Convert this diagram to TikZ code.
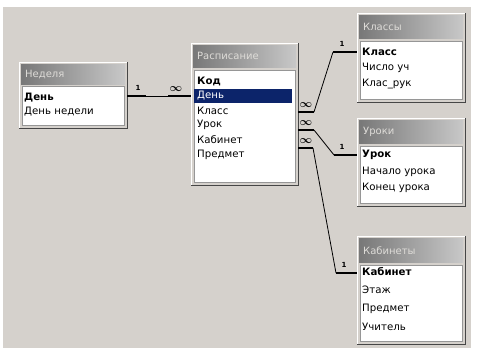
\documentclass[tikz,border=0pt]{standalone}
\usepackage{fontspec}
\setmainfont{DejaVu Sans}
\definecolor{bg}{RGB}{213,209,204}
\definecolor{tdark}{RGB}{120,120,120}
\definecolor{tlight}{RGB}{200,200,200}
\definecolor{ttext}{RGB}{222,220,216}
\definecolor{hl}{RGB}{12,36,106}
\definecolor{edark}{RGB}{70,70,70}
\definecolor{bodyedge}{RGB}{150,150,150}
\tikzset{
  frame/.style={anchor=north west, fill=bg, inner sep=0pt, draw=none},
  edgelight/.style={draw=white, line width=1pt},
  edgedark/.style={draw=edark, line width=1.4pt},
  titlebar/.style={anchor=north west, left color=tdark, right color=tlight, inner sep=0pt, text=ttext, font=\fontsize{10}{11}\selectfont, align=left},
  bodybox/.style={anchor=north west, fill=white, draw=bodyedge, line width=0.6pt, inner sep=0pt},
  field/.style={anchor=west, inner sep=0pt, font=\fontsize{10.2}{11}\selectfont},
  keyfield/.style={field, font=\fontsize{10.2}{11}\selectfont\bfseries},
  rel/.style={line width=0.8pt, black},
  relthick/.style={line width=2.4pt, black},
  one/.style={inner sep=0pt, font=\fontsize{7}{7}\selectfont\bfseries},
  many/.style={inner sep=0pt, font=\fontsize{11}{11}\selectfont\boldmath}
}
\begin{document}
\begin{tikzpicture}[x=1pt,y=-1pt]
\useasboundingbox (0,0) rectangle (479,348);
\fill[white] (0,0) rectangle (479,348);
\fill[bg] (3,7) rectangle (471,348);

% ---------- Неделя ----------
\node[frame, minimum width=108pt, minimum height=66pt] (ned) at (19,62) {};
\draw[edgelight] (ned.south west) -- (ned.north west) -- (ned.north east);
\draw[edgedark] (ned.north east) -- (ned.south east) -- (ned.south west);
\node[titlebar, minimum width=104pt, minimum height=20pt, text width=96pt, inner xsep=4pt] (nedT) at (21,64) {Неделя};
\node[bodybox, minimum width=102pt, minimum height=39pt] (nedB) at (22,86) {};
\node[keyfield] (nedDen) at (24,98) {День};
\node[field] (nedDN) at (24,112) {День недели};

% ---------- Расписание ----------
\node[frame, minimum width=107pt, minimum height=142pt] (ras) at (191,43) {};
\draw[edgelight] (ras.south west) -- (ras.north west) -- (ras.north east);
\draw[edgedark] (ras.north east) -- (ras.south east) -- (ras.south west);
\node[titlebar, minimum width=103pt, minimum height=22pt, text width=95pt, inner xsep=4pt] (rasT) at (193,45) {Расписание};
\node[bodybox, minimum width=101pt, minimum height=112pt] (rasB) at (194,70) {};
\node[keyfield] (rasKod) at (197,81) {Код};
\node[field, fill=hl, text=white, text width=92pt, inner xsep=3pt, minimum height=14pt] (rasDen) at (194,96) {День};
\node[field] (rasKl) at (197,111) {Класс};
\node[field] (rasUr) at (197,125) {Урок};
\node[field] (rasKab) at (197,140) {Кабинет};
\node[field] (rasPr) at (197,155) {Предмет};

% ---------- Классы ----------
\node[frame, minimum width=108pt, minimum height=89pt] (kl) at (357,13) {};
\draw[edgelight] (kl.south west) -- (kl.north west) -- (kl.north east);
\draw[edgedark] (kl.north east) -- (kl.south east) -- (kl.south west);
\node[titlebar, minimum width=104pt, minimum height=23pt, text width=96pt, inner xsep=4pt] (klT) at (359,15) {Классы};
\node[bodybox, minimum width=102pt, minimum height=58pt] (klB) at (360,41) {};
\node[keyfield] (klKl) at (362,52) {Класс};
\node[field] (klCh) at (362,68) {Число уч};
\node[field] (klRuk) at (362,84) {Клас\_рук};

% ---------- Уроки ----------
\node[frame, minimum width=108pt, minimum height=88pt] (ur) at (357,118) {};
\draw[edgelight] (ur.south west) -- (ur.north west) -- (ur.north east);
\draw[edgedark] (ur.north east) -- (ur.south east) -- (ur.south west);
\node[titlebar, minimum width=104pt, minimum height=23pt, text width=96pt, inner xsep=4pt] (urT) at (359,120) {Уроки};
\node[bodybox, minimum width=102pt, minimum height=57pt] (urB) at (360,146) {};
\node[keyfield] (urUr) at (362,155) {Урок};
\node[field] (urNach) at (362,172) {Начало урока};
\node[field] (urKon) at (362,188) {Конец урока};

% ---------- Кабинеты ----------
\node[frame, minimum width=108pt, minimum height=108pt] (kab) at (357,236) {};
\draw[edgelight] (kab.south west) -- (kab.north west) -- (kab.north east);
\draw[edgedark] (kab.north east) -- (kab.south east) -- (kab.south west);
\node[titlebar, minimum width=104pt, minimum height=24pt, text width=96pt, inner xsep=4pt] (kabT) at (359,238) {Кабинеты};
\node[bodybox, minimum width=102pt, minimum height=76pt] (kabB) at (360,265) {};
\node[keyfield] (kabKab) at (362,272) {Кабинет};
\node[field] (kabEt) at (362,290) {Этаж};
\node[field] (kabPr) at (362,309) {Предмет};
\node[field] (kabUch) at (362,327) {Учитель};

% ---------- Связи ----------
% Неделя - Расписание
\coordinate (n1) at (146,96);
\coordinate (n2) at (168,96);
\draw[relthick] (ned.east |- n1) -- (n1);
\draw[rel] (n1) -- (n2);
\draw[relthick] (n2) -- (ras.west |- n2);
\node[one] (n1lab) at (138,88) {1};
\node[many] (n2lab) at (176,89) {$\infty$};

% Расписание - Классы
\coordinate (a1) at (314,112);
\coordinate (a2) at (333,52);
\draw[relthick] (ras.east |- a1) -- (a1);
\draw[rel] (a1) -- (a2);
\draw[relthick] (a2) -- (kl.west |- a2);
\node[many] (a1lab) at (306,105) {$\infty$};
\node[one] (a2lab) at (342,44) {1};

% Расписание - Уроки
\coordinate (b1) at (314,130);
\coordinate (b2) at (334,155);
\draw[relthick] (ras.east |- b1) -- (b1);
\draw[rel] (b1) -- (b2);
\draw[relthick] (b2) -- (ur.west |- b2);
\node[many] (b1lab) at (306,123) {$\infty$};
\node[one] (b2lab) at (342,147) {1};

% Расписание - Кабинеты
\coordinate (c1) at (313,148);
\coordinate (c2) at (336,273);
\draw[relthick] (ras.east |- c1) -- (c1);
\draw[rel] (c1) -- (c2);
\draw[relthick] (c2) -- (kab.west |- c2);
\node[many] (c1lab) at (306,141) {$\infty$};
\node[one] (c2lab) at (344,265) {1};
\end{tikzpicture}
\end{document}
